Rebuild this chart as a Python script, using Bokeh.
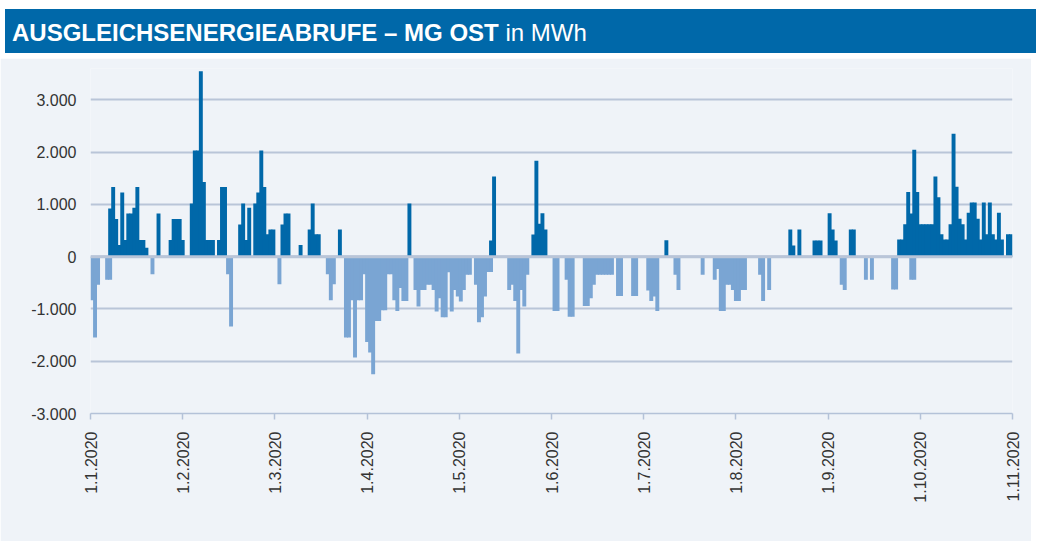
import math
from bokeh.plotting import figure
from bokeh.models import Div, FixedTicker, CustomJSTickFormatter, Span
from bokeh.layouts import column
from bokeh.embed import file_html
from bokeh.resources import INLINE

# ---------------- data ----------------
title_bold = "AUSGLEICHSENERGIEABRUFE – MG OST"
title_unit = "in MWh"
tick_labels = ["1.1.2020", "1.2.2020", "1.3.2020", "1.4.2020", "1.5.2020", "1.6.2020",
               "1.7.2020", "1.8.2020", "1.9.2020", "1.10.2020", "1.11.2020"]
n_days = 305
y_ticks = [-3000, -2000, -1000, 0, 1000, 2000, 3000]

# positive calls (day index since 1.1.2020, MWh)
pos_day = [6, 7, 8, 9, 10, 11, 12, 13, 14, 15, 16, 17, 18, 22, 26, 27, 28, 29, 30, 33,
           34, 35, 36, 37, 38, 39, 40, 42, 43, 44, 49, 50, 51, 52, 54, 55, 56, 57, 58, 59,
           60, 63, 64, 65, 69, 72, 73, 74, 75, 82, 105, 132, 133, 146, 147, 148, 149, 150,
           190, 231, 232, 234, 239, 240, 241, 244, 245, 246, 251, 252, 267, 268, 269, 270,
           271, 272, 273, 274, 275, 276, 277, 278, 279, 280, 281, 282, 283, 284, 285, 286,
           287, 288, 289, 290, 291, 292, 293, 294, 295, 296, 297, 298, 299, 300, 301, 303,
           304]
pos_val = [923, 1331, 720, 223, 1229, 318, 828, 828, 936, 1331, 318, 318, 172, 828, 318, 720,
           720, 720, 318, 1019, 2032, 2032, 3548, 1427, 318, 318, 318, 318, 1331, 1331, 618,
           1019, 318, 936, 1019, 1229, 2032, 1331, 427, 522, 522, 618, 828, 828, 223, 522,
           1019, 427, 427, 522, 1019, 308, 1532, 423, 1833, 628, 833, 519, 314, 519, 212,
           519, 308, 308, 308, 833, 519, 308, 519, 519, 327, 327, 622, 1237, 827, 2045, 1237,
           622, 622, 622, 622, 622, 1532, 1135, 430, 327, 327, 622, 2353, 1340, 724, 622,
           327, 840, 1038, 1038, 724, 327, 1038, 430, 1038, 430, 327, 840, 327, 430, 430]

# negative calls (day index since 1.1.2020, MWh)
neg_day = [0, 1, 2, 5, 6, 20, 45, 46, 62, 78, 79, 80, 84, 85, 86, 87, 88, 89, 90, 91, 92, 93,
           94, 95, 96, 97, 98, 99, 100, 101, 102, 103, 104, 107, 108, 109, 110, 111, 112, 113,
           114, 115, 116, 117, 118, 119, 120, 121, 122, 123, 124, 125, 127, 128, 129, 130,
           131, 132, 138, 139, 140, 141, 142, 143, 144, 153, 154, 157, 158, 159, 163, 164,
           165, 166, 167, 168, 169, 170, 171, 172, 174, 175, 179, 180, 184, 185, 186, 187,
           193, 194, 202, 206, 207, 208, 209, 210, 211, 212, 213, 214, 215, 216, 221, 222,
           224, 248, 249, 256, 258, 265, 266, 271, 272]
neg_val = [-834, -1548, -535, -440, -440, -338, -338, -1338, -529, -338, -834, -529, -1548,
           -1548, -834, -1930, -834, -834, -338, -1631, -1834, -2248, -1229, -1229, -1025,
           -1025, -338, -338, -834, -1038, -600, -846, -846, -635, -955, -635, -635, -538,
           -538, -635, -1051, -795, -1160, -1160, -300, -1051, -635, -763, -859, -635, -346,
           -346, -538, -1256, -1160, -763, -295, -295, -635, -538, -846, -1853, -635, -955,
           -346, -1038, -1038, -442, -1147, -1147, -942, -942, -795, -538, -346, -346, -346,
           -346, -346, -346, -750, -750, -750, -750, -647, -846, -763, -1038, -346, -635,
           -346, -442, -237, -1038, -1038, -538, -538, -635, -846, -846, -635, -635, -346,
           -846, -635, -538, -635, -442, -442, -628, -628, -442, -442]

# ---------------- style ----------------
BLUE = "#0068a9"
LIGHT = "#7aa5d3"
BG = "#eff3f8"
GRID = "#b9c5d8"
AXIS = "#b4c2d8"
TXT = "#333333"
FONT = "Liberation Sans"

html = (
    f'<div style="margin-top:4px;width:1031px;height:44px;box-sizing:border-box;'
    f'background:{BLUE};color:#ffffff;font-family:\'{FONT}\',Arial,sans-serif;'
    f'font-size:24px;line-height:27px;padding:10px 0 0 7px;white-space:nowrap;">'
    f'<b>{title_bold}</b> {title_unit}</div>'
)
header = Div(text=html, width=1031, height=48)

p = figure(width=1031, height=483, x_range=(0, n_days), y_range=(-3000, 3600),
           output_backend="svg", toolbar_location=None,
           min_border_left=90, min_border_right=19, min_border_top=10, min_border_bottom=128)
p.background_fill_color = BG
p.border_fill_color = BG
p.outline_line_color = None

p.vbar(x=[d + 0.5 for d in neg_day], top=neg_val, bottom=0, width=1.3,
       fill_color=LIGHT, line_color=None)
p.vbar(x=[d + 0.5 for d in pos_day], top=pos_val, bottom=0, width=1.3,
       fill_color=BLUE, line_color=None)

p.add_layout(Span(location=0, dimension="width", line_color=GRID, line_width=3))

step = n_days / (len(tick_labels) - 1)
p.xaxis.ticker = FixedTicker(ticks=[i * step for i in range(len(tick_labels))])
p.xaxis.formatter = CustomJSTickFormatter(args=dict(labels=tick_labels, step=step),
                                          code="return labels[Math.round(tick/step)];")
p.xaxis.major_label_orientation = math.pi / 2
p.xaxis.axis_line_color = AXIS
p.xaxis.axis_line_width = 1.5
p.xaxis.major_tick_line_color = AXIS
p.xaxis.major_tick_line_width = 1.5
p.xaxis.major_tick_out = 6
p.xaxis.major_tick_in = 0
p.xaxis.minor_tick_line_color = None
p.xaxis.major_label_standoff = 12
p.xaxis.major_label_text_font = FONT
p.xaxis.major_label_text_font_size = "16px"
p.xaxis.major_label_text_color = TXT
p.xgrid.grid_line_color = None

p.yaxis.ticker = FixedTicker(ticks=y_ticks)
p.yaxis.major_label_overrides = {v: f"{v:,}".replace(",", ".") for v in y_ticks}
p.yaxis.axis_line_color = None
p.yaxis.major_tick_line_color = None
p.yaxis.minor_tick_line_color = None
p.yaxis.major_tick_out = 0
p.yaxis.major_tick_in = 0
p.yaxis.major_label_standoff = 14
p.yaxis.major_label_text_font = FONT
p.yaxis.major_label_text_font_size = "16px"
p.yaxis.major_label_text_color = TXT
p.ygrid.grid_line_color = GRID
p.ygrid.grid_line_width = 2

layout = column(header, p, spacing=0)
open("out.html", "w").write(file_html(layout, INLINE))
